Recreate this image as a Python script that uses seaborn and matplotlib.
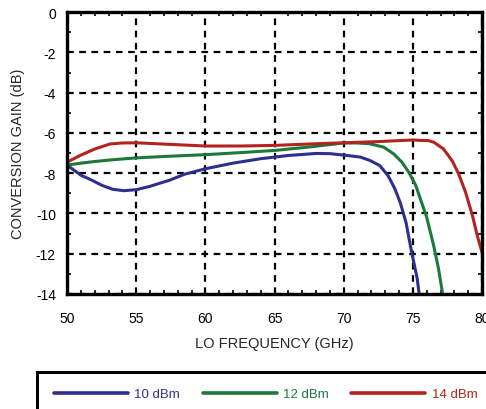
import numpy as np
import pandas as pd
import matplotlib
matplotlib.use("Agg")
import matplotlib.pyplot as plt
from matplotlib.patches import Rectangle
from matplotlib.ticker import MultipleLocator
import seaborn as sns

# --- Data (LO frequency in GHz, conversion gain in dB) ---
freq_10 = [50, 50.5, 51, 51.8, 52.5, 53.3, 54.1, 55, 56, 57.4, 58.5, 60, 62, 64, 66, 68,
           69, 70, 71.2, 71.9, 72.6, 73.2, 73.7, 74.1, 74.5, 74.9, 75.3, 75.45, 75.55]
gain_10 = [-7.6, -7.85, -8.1, -8.35, -8.6, -8.8, -8.87, -8.82, -8.65, -8.35, -8.05, -7.78,
           -7.5, -7.28, -7.12, -7.02, -7.03, -7.1, -7.2, -7.37, -7.62, -8.12, -8.78, -9.5,
           -10.45, -11.9, -13.2, -14.0, -14.5]

freq_12 = [50, 51, 52, 53, 55, 57, 60, 62.5, 65, 67.5, 70, 71, 71.9, 72.9, 73.6, 74.2, 74.7,
           75.2, 75.55, 76.0, 76.5, 76.85, 77.15, 77.25]
gain_12 = [-7.6, -7.5, -7.42, -7.35, -7.24, -7.17, -7.08, -6.98, -6.87, -6.7, -6.5, -6.5,
           -6.54, -6.71, -7.04, -7.45, -7.95, -8.6, -9.3, -10.2, -11.6, -12.75, -14.0, -14.5]

freq_14 = [50, 51, 52, 53.1, 54, 55, 57.5, 60, 62.5, 65, 67.5, 70, 72.5, 75, 75.5, 76.1,
           76.5, 76.9, 77.2, 77.5, 77.85, 78.3, 78.8, 79.3, 79.65, 80.0]
gain_14 = [-7.45, -7.1, -6.8, -6.55, -6.5, -6.49, -6.57, -6.65, -6.65, -6.62, -6.55, -6.49,
           -6.43, -6.35, -6.37, -6.38, -6.46, -6.65, -6.79, -7.07, -7.4, -8.03, -8.94, -10.1,
           -11.1, -11.95]

labels = ["10 dBm", "12 dBm", "14 dBm"]
colors = {"10 dBm": "#2e2f8e", "12 dBm": "#1b7a3a", "14 dBm": "#b3231f"}

df = pd.concat([
    pd.DataFrame({"freq": freq_10, "gain": gain_10, "power": labels[0]}),
    pd.DataFrame({"freq": freq_12, "gain": gain_12, "power": labels[1]}),
    pd.DataFrame({"freq": freq_14, "gain": gain_14, "power": labels[2]}),
], ignore_index=True)

# --- Style ---
sns.set_style("ticks")
plt.rcParams["font.family"] = ["Liberation Sans", "DejaVu Sans"]
plt.rcParams["axes.unicode_minus"] = False

fig = plt.figure(figsize=(4.86, 4.10), dpi=100)
ax = fig.add_axes([0.138, 0.2805, 0.854, 0.6875])

sns.lineplot(data=df, x="freq", y="gain", hue="power", palette=colors,
             linewidth=2.2, sort=False, ax=ax, legend=False)

ax.set_xlim(50, 80)
ax.set_ylim(-14, 0)
ax.xaxis.set_major_locator(MultipleLocator(5))
ax.xaxis.set_minor_locator(MultipleLocator(1))
ax.yaxis.set_major_locator(MultipleLocator(2))
ax.yaxis.set_minor_locator(MultipleLocator(1))

ax.grid(True, which="major", color="black", linestyle=(0, (3, 2.5)), linewidth=1.6)
ax.tick_params(which="both", direction="in", top=True, right=True, colors="black",
               labelsize=10)
ax.tick_params(axis="x", which="major", length=0, pad=12)
ax.tick_params(axis="y", which="major", length=0, pad=8)
ax.tick_params(which="minor", length=3, width=1.2)
for sp in ax.spines.values():
    sp.set_linewidth(2.4)
    sp.set_color("black")

ax.set_xlabel("LO FREQUENCY (GHz)", fontsize=10.5, labelpad=8)
ax.set_ylabel("CONVERSION GAIN (dB)", fontsize=10.5, labelpad=8)

# --- Legend box below the plot (cut off at the figure edge like the reference) ---
fig.patches.append(Rectangle((37 / 486, -0.1), 1.0, 0.1 + (410 - 373) / 410,
                             transform=fig.transFigure, fill=False,
                             linewidth=2.2, edgecolor="black"))
handles = [plt.Line2D([], [], color=colors[l], linewidth=2.6) for l in labels]
fig.legend(handles, labels, loc="center left", bbox_to_anchor=(54 / 486, 15 / 410),
           ncol=3, frameon=False, fontsize=9.5, handlelength=5.6,
           handletextpad=0.5, columnspacing=1.7, borderpad=0, borderaxespad=0,
           labelcolor="linecolor")

fig.savefig("out.png", dpi=100)
